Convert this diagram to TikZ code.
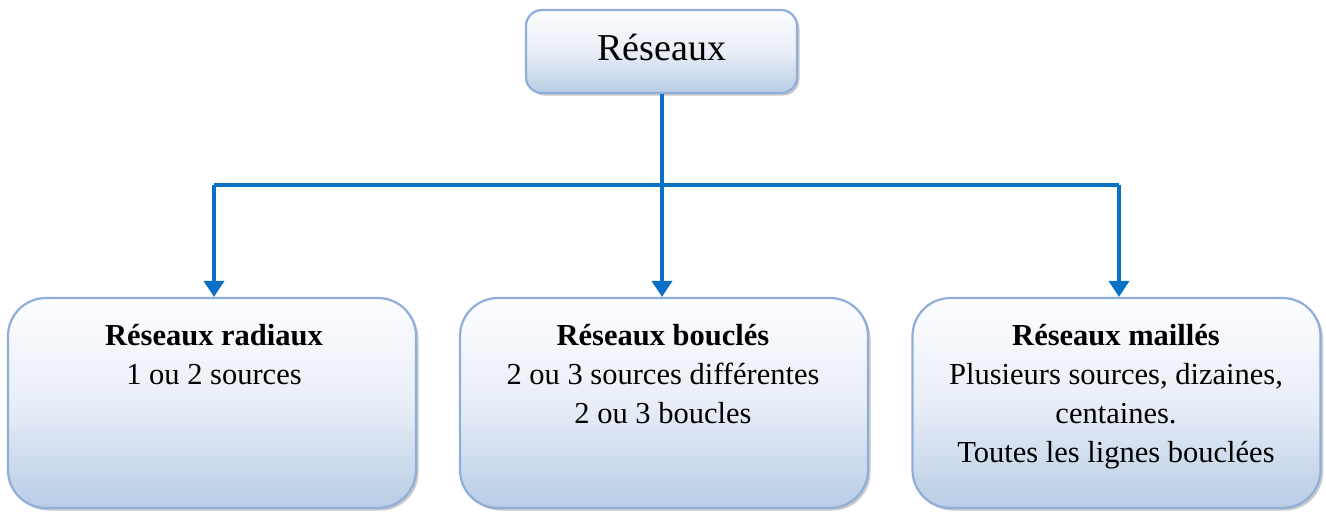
\documentclass[tikz,border=0pt]{standalone}
\usepackage{fontspec}
\setmainfont{Liberation Serif}
\usetikzlibrary{arrows.meta,shadows}
\definecolor{bordc}{HTML}{8FAEDA}
\definecolor{topc}{HTML}{FDFDFF}
\definecolor{botc}{HTML}{B8CCE4}
\definecolor{linec}{HTML}{0A70C4}
\tikzset{
  boxbase/.style={draw=bordc, line width=2.2pt, top color=topc, bottom color=botc, middle color=botc!30!topc,
    drop shadow={shadow xshift=2.5pt, shadow yshift=-2.5pt, fill=gray!70, opacity=0.6}},
  bigbox/.style={boxbase, rounded corners=38pt, minimum width=408pt, minimum height=210pt, inner sep=0pt},
  topbox/.style={boxbase, rounded corners=16pt, minimum width=271pt, minimum height=83pt, inner sep=0pt},
  txt/.style={font=\fontsize{30.5}{39}\selectfont, align=center, anchor=base, inner sep=0pt},
  conn/.style={draw=linec, line width=3.6pt},
  arr/.style={conn, -{Triangle[length=16pt,width=20pt]}},
}
\begin{document}
\begin{tikzpicture}[x=1pt,y=-1pt]
\useasboundingbox (0,0) rectangle (1326,512);
\node[topbox] (top) at (661.5,51.5) {};
\node[font=\fontsize{38}{44}\selectfont, anchor=base, inner sep=0pt] (toptxt) at (662,60) {Réseaux};
\node[bigbox] (ba) at (212,403) {};
\node[bigbox] (bb) at (664,403) {};
\node[bigbox] (bc) at (1116.5,403) {};
\coordinate (hl) at (214,185);
\coordinate (hm) at (662,185);
\coordinate (hr) at (1119,185);
\draw[conn] (top.south -| hm) -- (hm);
\draw[conn] (hl) -- (hr);
\draw[arr] (hl) -- (hl |- ba.north);
\draw[arr] (hm) -- (hm |- bb.north);
\draw[arr] (hr) -- (hr |- bc.north);
\node[txt] (l1) at (214,384) {\textbf{Réseaux radiaux}\\1 ou 2 sources};
\node[txt] (l2) at (663,423) {\textbf{Réseaux bouclés}\\2 ou 3 sources différentes\\2 ou 3 boucles};
\node[txt] (l3) at (1116,462) {\textbf{Réseaux maillés}\\Plusieurs sources, dizaines,\\centaines.\\Toutes les lignes bouclées};
\end{tikzpicture}
\end{document}
